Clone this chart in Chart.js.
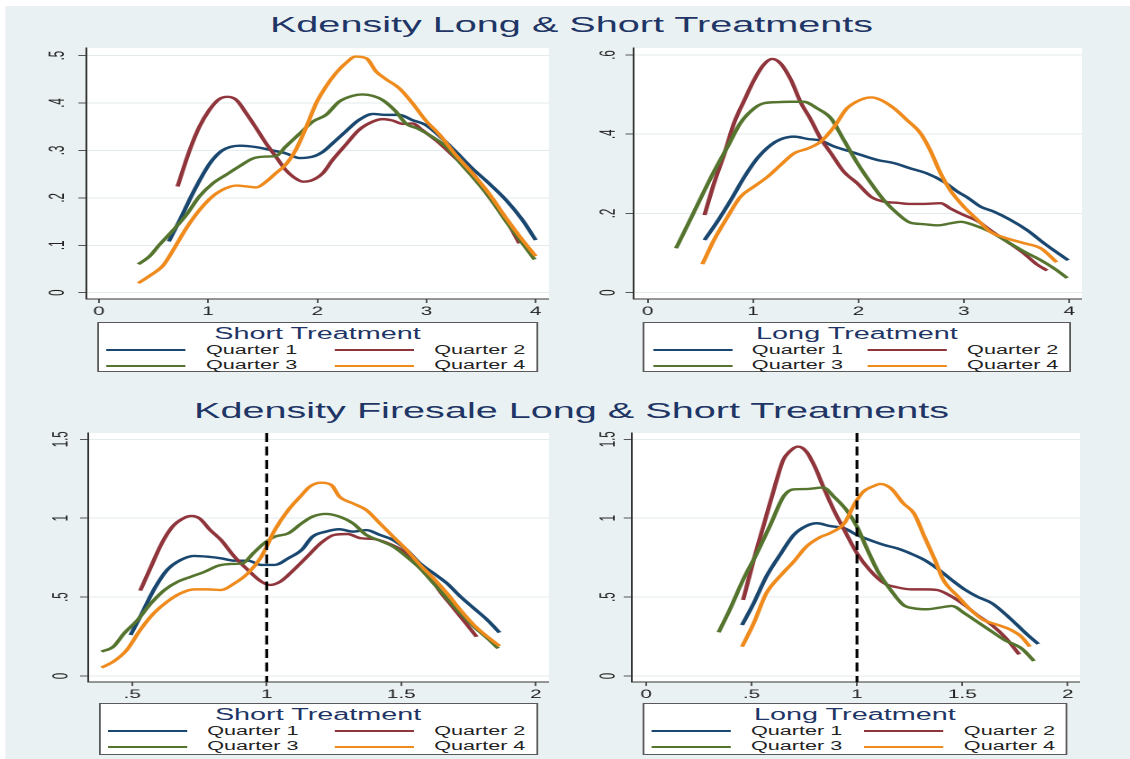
<!DOCTYPE html>
<html>
<head>
<meta charset="utf-8">
<script src="https://cdn.jsdelivr.net/npm/chart.js@4.4.1/dist/chart.umd.min.js"></script>
<style>
  html, body { margin: 0; padding: 0; background: #fff; overflow: hidden; }
  /* the reference picture is stretched sideways, so the whole figure is drawn narrow and scaled */
  #fig { position: absolute; left: 0; top: 0; width: 627.8px; height: 759px;
         transform: scaleX(1.8); transform-origin: 0 0;
         font-family: "Liberation Sans", Arial, sans-serif; }
  .band { position: absolute; left: 2.5px; top: 6px; right: 0; bottom: 0; background: #e9f1f2; }
  .title { position: absolute; left: 0; width: 635px; height: 30px; line-height: 30px;
           text-align: center; font-size: 22px; color: #1e3566; white-space: nowrap; }
  canvas { position: absolute; }
  .legend { position: absolute; background: #fff; border: 1px solid #5a5a5a; box-sizing: border-box; }
  .legend .lt { position: absolute; left: 0; right: 0; top: 0; height: 21px; line-height: 21px;
                text-align: center; font-size: 16px; color: #1e3566; white-space: nowrap; }
  .legend .items { position: absolute; left: 4.5px; right: 6px; top: 19.5px; display: grid;
                   grid-template-columns: 44px 1fr 44px auto; grid-auto-rows: 15.5px;
                   column-gap: 11px; align-items: center; }
  .legend .ln { height: 2px; }
  .legend .tx { font-size: 12px; color: #222; white-space: nowrap; line-height: 15.5px; }
</style>
</head>
<body>
<div id="fig">
  <div class="band"></div>
  <div class="title" id="t1" style="top:10px"></div>
  <div class="title" id="t2" style="top:395.5px"></div>

  <canvas id="c1" width="289" height="273" style="left:16.2px; top:44px"></canvas>
  <canvas id="c2" width="281" height="273" style="left:319.5px; top:44px"></canvas>
  <canvas id="c3" width="288" height="271" style="left:16.7px; top:429px"></canvas>
  <canvas id="c4" width="281" height="271" style="left:318.9px; top:429px"></canvas>

  <div class="legend" id="l1" style="left:53.9px; top:322px; width:245px; height:50px"></div>
  <div class="legend" id="l2" style="left:357.2px; top:322px; width:237.8px; height:50px"></div>
  <div class="legend" id="l3" style="left:54.6px; top:703px; width:244.3px; height:52px"></div>
  <div class="legend" id="l4" style="left:356.7px; top:703px; width:236.5px; height:52px"></div>
</div>

<script>
const figureTitles = ["Kdensity Long & Short Treatments", "Kdensity Firesale Long & Short Treatments"];
const legendTitles = ["Short Treatment", "Long Treatment", "Short Treatment", "Long Treatment"];
const seriesNames = ["Quarter 1", "Quarter 2", "Quarter 3", "Quarter 4"];
const seriesColors = ["#1a476f", "#90353b", "#55752f", "#ef8a1c"];

// tick values and their printed labels
const xTicks04 = [0, 1, 2, 3, 4];
const xLabels04 = ["0", "1", "2", "3", "4"];
const yTicksShort = [0, 0.1, 0.2, 0.3, 0.4, 0.5];
const yLabelsShort = ["0", ".1", ".2", ".3", ".4", ".5"];
const yTicksLong = [0, 0.2, 0.4, 0.6];
const yLabelsLong = ["0", ".2", ".4", ".6"];
const xTicksFireShort = [0.5, 1, 1.5, 2];
const xLabelsFireShort = [".5", "1", "1.5", "2"];
const xTicksFireLong = [0, 0.5, 1, 1.5, 2];
const xLabelsFireLong = ["0", ".5", "1", "1.5", "2"];
const yTicksFire = [0, 0.5, 1, 1.5];
const yLabelsFire = ["0", ".5", "1", "1.5"];
const firesaleCutoff = 1;

// kernel density curves, [x, density]
const shortQ1 = [[0.64,0.108],[0.74,0.153],[0.86,0.21],[0.98,0.26],[1.04,0.28],[1.13,0.30],[1.29,0.31],[1.44,0.307],[1.59,0.30],[1.71,0.294],[1.84,0.284],[1.96,0.287],[2.05,0.297],[2.14,0.315],[2.26,0.34],[2.38,0.364],[2.51,0.377],[2.63,0.375],[2.75,0.375],[2.87,0.364],[2.99,0.354],[3.12,0.33],[3.27,0.297],[3.42,0.262],[3.57,0.231],[3.73,0.195],[3.88,0.153],[4.0,0.111]];
const shortQ2 = [[0.72,0.224],[0.83,0.30],[0.92,0.35],[1.01,0.385],[1.10,0.408],[1.18,0.413],[1.26,0.406],[1.35,0.378],[1.44,0.347],[1.53,0.315],[1.62,0.287],[1.71,0.259],[1.80,0.241],[1.87,0.234],[1.96,0.238],[2.05,0.252],[2.14,0.28],[2.26,0.312],[2.38,0.343],[2.51,0.361],[2.60,0.366],[2.69,0.363],[2.78,0.356],[2.87,0.357],[2.96,0.343],[3.12,0.315],[3.27,0.283],[3.42,0.252],[3.57,0.203],[3.73,0.153],[3.85,0.104]];
const shortQ3 = [[0.36,0.06],[0.46,0.076],[0.55,0.10],[0.68,0.132],[0.80,0.164],[0.92,0.203],[1.04,0.23],[1.16,0.248],[1.29,0.267],[1.41,0.283],[1.53,0.287],[1.62,0.288],[1.71,0.308],[1.84,0.336],[1.96,0.361],[2.08,0.375],[2.20,0.403],[2.32,0.415],[2.41,0.418],[2.51,0.415],[2.60,0.406],[2.72,0.382],[2.81,0.357],[2.93,0.345],[3.05,0.329],[3.18,0.308],[3.30,0.276],[3.42,0.245],[3.57,0.203],[3.73,0.15],[3.88,0.104],[3.99,0.07]];
const shortQ4 = [[0.36,0.02],[0.46,0.035],[0.59,0.058],[0.68,0.09],[0.80,0.136],[0.92,0.174],[1.04,0.203],[1.16,0.22],[1.26,0.226],[1.35,0.224],[1.44,0.222],[1.53,0.234],[1.62,0.252],[1.71,0.27],[1.80,0.30],[1.90,0.35],[1.99,0.40],[2.08,0.435],[2.17,0.463],[2.26,0.484],[2.35,0.498],[2.45,0.494],[2.54,0.466],[2.63,0.45],[2.75,0.431],[2.87,0.40],[2.99,0.364],[3.12,0.333],[3.27,0.29],[3.42,0.252],[3.57,0.21],[3.73,0.157],[3.88,0.111],[4.0,0.077]];

const longQ1 = [[0.54,0.133],[0.66,0.179],[0.79,0.234],[0.92,0.293],[1.04,0.339],[1.17,0.373],[1.26,0.387],[1.39,0.394],[1.52,0.388],[1.64,0.384],[1.77,0.369],[1.89,0.359],[2.02,0.348],[2.18,0.335],[2.34,0.327],[2.49,0.314],[2.65,0.301],[2.81,0.28],[2.94,0.255],[3.03,0.241],[3.16,0.217],[3.28,0.205],[3.44,0.184],[3.60,0.158],[3.76,0.125],[3.88,0.102],[3.99,0.082]];
const longQ2 = [[0.54,0.196],[0.63,0.276],[0.73,0.352],[0.82,0.428],[0.92,0.487],[1.01,0.537],[1.10,0.575],[1.18,0.59],[1.26,0.579],[1.36,0.537],[1.45,0.482],[1.55,0.436],[1.64,0.39],[1.74,0.352],[1.86,0.306],[1.99,0.276],[2.12,0.242],[2.24,0.23],[2.37,0.227],[2.49,0.224],[2.62,0.224],[2.78,0.226],[2.87,0.213],[3.0,0.196],[3.13,0.181],[3.25,0.158],[3.41,0.129],[3.57,0.099],[3.69,0.072],[3.79,0.056]];
const longQ3 = [[0.27,0.112],[0.38,0.171],[0.51,0.242],[0.63,0.306],[0.76,0.369],[0.88,0.428],[1.01,0.465],[1.10,0.478],[1.23,0.481],[1.36,0.482],[1.48,0.482],[1.61,0.465],[1.74,0.44],[1.86,0.386],[1.99,0.327],[2.12,0.276],[2.24,0.234],[2.37,0.2],[2.49,0.177],[2.62,0.173],[2.75,0.17],[2.87,0.175],[2.97,0.179],[3.09,0.171],[3.25,0.154],[3.41,0.129],[3.57,0.104],[3.73,0.082],[3.88,0.057],[3.98,0.037]];
const longQ4 = [[0.52,0.072],[0.63,0.133],[0.76,0.192],[0.88,0.242],[1.01,0.268],[1.14,0.293],[1.26,0.322],[1.39,0.352],[1.52,0.364],[1.64,0.381],[1.77,0.419],[1.89,0.465],[2.02,0.487],[2.12,0.493],[2.21,0.487],[2.34,0.465],[2.46,0.436],[2.59,0.402],[2.68,0.36],[2.78,0.301],[2.87,0.259],[3.0,0.217],[3.13,0.184],[3.25,0.154],[3.41,0.137],[3.57,0.125],[3.73,0.112],[3.88,0.077]];

const fireShortQ1 = [[0.494,0.26],[0.53,0.376],[0.58,0.545],[0.63,0.672],[0.68,0.735],[0.73,0.761],[0.78,0.756],[0.83,0.746],[0.88,0.731],[0.93,0.731],[0.98,0.704],[1.03,0.704],[1.08,0.746],[1.13,0.799],[1.17,0.883],[1.22,0.915],[1.27,0.93],[1.32,0.915],[1.37,0.925],[1.42,0.894],[1.47,0.862],[1.52,0.799],[1.57,0.714],[1.62,0.651],[1.67,0.587],[1.72,0.503],[1.77,0.429],[1.82,0.355],[1.865,0.275]];
const fireShortQ2 = [[0.53,0.541],[0.57,0.693],[0.61,0.841],[0.65,0.947],[0.69,0.999],[0.72,1.014],[0.75,0.999],[0.79,0.925],[0.83,0.862],[0.88,0.756],[0.93,0.672],[0.98,0.598],[1.01,0.577],[1.05,0.598],[1.10,0.672],[1.15,0.756],[1.20,0.841],[1.25,0.894],[1.30,0.9],[1.35,0.873],[1.40,0.868],[1.45,0.841],[1.50,0.799],[1.55,0.725],[1.60,0.651],[1.64,0.545],[1.69,0.439],[1.74,0.334],[1.78,0.249]];
const fireShortQ3 = [[0.386,0.154],[0.43,0.186],[0.47,0.27],[0.52,0.355],[0.57,0.461],[0.62,0.545],[0.67,0.598],[0.72,0.63],[0.77,0.661],[0.82,0.699],[0.87,0.71],[0.91,0.714],[0.95,0.778],[0.99,0.841],[1.03,0.883],[1.08,0.904],[1.13,0.968],[1.17,1.01],[1.22,1.027],[1.27,1.01],[1.32,0.968],[1.37,0.894],[1.42,0.858],[1.47,0.82],[1.52,0.756],[1.57,0.682],[1.62,0.587],[1.67,0.492],[1.72,0.397],[1.77,0.313],[1.82,0.239],[1.86,0.175]];
const fireShortQ4 = [[0.386,0.053],[0.43,0.091],[0.48,0.165],[0.53,0.292],[0.58,0.397],[0.63,0.471],[0.68,0.524],[0.73,0.549],[0.78,0.549],[0.83,0.545],[0.88,0.587],[0.93,0.651],[0.98,0.756],[1.03,0.925],[1.08,1.052],[1.13,1.147],[1.16,1.2],[1.20,1.225],[1.24,1.211],[1.27,1.137],[1.32,1.094],[1.37,1.052],[1.42,0.968],[1.47,0.883],[1.52,0.799],[1.57,0.704],[1.62,0.619],[1.67,0.524],[1.72,0.418],[1.77,0.323],[1.82,0.249],[1.865,0.19]];

const fireLongQ1 = [[0.455,0.323],[0.51,0.461],[0.57,0.63],[0.64,0.778],[0.70,0.894],[0.76,0.951],[0.81,0.968],[0.87,0.951],[0.94,0.936],[1.0,0.894],[1.06,0.862],[1.13,0.83],[1.19,0.809],[1.26,0.773],[1.32,0.735],[1.38,0.682],[1.45,0.608],[1.51,0.549],[1.57,0.503],[1.64,0.461],[1.70,0.397],[1.76,0.323],[1.81,0.26],[1.86,0.203]];
const fireLongQ2 = [[0.46,0.482],[0.51,0.735],[0.56,0.968],[0.61,1.2],[0.65,1.369],[0.68,1.422],[0.72,1.454],[0.76,1.422],[0.80,1.327],[0.84,1.2],[0.89,1.052],[0.94,0.925],[1.0,0.778],[1.06,0.672],[1.13,0.587],[1.19,0.562],[1.26,0.549],[1.32,0.549],[1.38,0.545],[1.45,0.503],[1.51,0.45],[1.57,0.387],[1.64,0.323],[1.70,0.249],[1.77,0.137]];
const fireLongQ3 = [[0.344,0.277],[0.40,0.43],[0.46,0.61],[0.526,0.78],[0.59,0.96],[0.653,1.14],[0.70,1.183],[0.76,1.185],[0.84,1.194],[0.89,1.137],[0.95,1.052],[1.0,0.947],[1.05,0.799],[1.10,0.661],[1.16,0.545],[1.22,0.45],[1.27,0.429],[1.33,0.423],[1.40,0.435],[1.45,0.444],[1.51,0.397],[1.57,0.344],[1.64,0.281],[1.70,0.228],[1.78,0.175],[1.84,0.095]];
const fireLongQ4 = [[0.455,0.186],[0.51,0.334],[0.57,0.524],[0.64,0.64],[0.70,0.725],[0.76,0.82],[0.83,0.883],[0.87,0.904],[0.94,0.968],[0.99,1.094],[1.03,1.168],[1.08,1.204],[1.11,1.217],[1.16,1.19],[1.22,1.094],[1.27,1.031],[1.32,0.883],[1.37,0.735],[1.41,0.608],[1.48,0.503],[1.54,0.418],[1.60,0.355],[1.67,0.323],[1.73,0.292],[1.78,0.249],[1.82,0.186]];

Chart.defaults.font.family = '"Liberation Sans", Arial, sans-serif';

document.getElementById("t1").textContent = figureTitles[0];
document.getElementById("t2").textContent = figureTitles[1];

const panels = [
  { canvas: "c1", legend: "l1", series: [shortQ1, shortQ2, shortQ3, shortQ4],
    xTicks: xTicks04, xLabels: xLabels04, yTicks: yTicksShort, yLabels: yLabelsShort,
    xMin: -0.115, xMax: 4.122, yMin: -0.0133, yMax: 0.516, yPad: 6.6 },
  { canvas: "c2", legend: "l2", series: [longQ1, longQ2, longQ3, longQ4],
    xTicks: xTicks04, xLabels: xLabels04, yTicks: yTicksLong, yLabels: yLabelsLong,
    xMin: -0.1326, xMax: 4.119, yMin: -0.0159, yMax: 0.6177, yPad: 4.4 },
  { canvas: "c3", legend: "l3", series: [fireShortQ1, fireShortQ2, fireShortQ3, fireShortQ4],
    xTicks: xTicksFireShort, xLabels: xLabelsFireShort, yTicks: yTicksFire, yLabels: yLabelsFire,
    xMin: 0.3366, xMax: 2.049, yMin: -0.038, yMax: 1.54, yPad: 2.3, cutoff: firesaleCutoff },
  { canvas: "c4", legend: "l4", series: [fireLongQ1, fireLongQ2, fireLongQ3, fireLongQ4],
    xTicks: xTicksFireLong, xLabels: xLabelsFireLong, yTicks: yTicksFire, yLabels: yLabelsFire,
    xMin: -0.068, xMax: 2.058, yMin: -0.038, yMax: 1.54, yPad: 0, cutoff: firesaleCutoff }
];

// white plot region + dashed reference line
const plotBg = {
  id: "plotBg",
  beforeDraw(chart) {
    const a = chart.chartArea, ctx = chart.ctx;
    ctx.save();
    ctx.fillStyle = "#fff";
    ctx.fillRect(a.left, a.top, a.right - a.left, a.bottom - a.top);
    ctx.restore();
  },
  afterDatasetsDraw(chart, args, opts) {
    if (opts.cutoff == null) return;
    const a = chart.chartArea, ctx = chart.ctx;
    const x = chart.scales.x.getPixelForValue(opts.cutoff);
    ctx.save();
    ctx.strokeStyle = "#000";
    ctx.lineWidth = 1.6;
    ctx.setLineDash([9, 4.5]);
    ctx.beginPath();
    ctx.moveTo(x, a.top);
    ctx.lineTo(x, a.bottom);
    ctx.stroke();
    ctx.restore();
  }
};

panels.forEach((p, k) => {
  // legend box
  const lg = document.getElementById(p.legend);
  let html = '<div class="lt">' + legendTitles[k] + '</div><div class="items">';
  seriesNames.forEach((name, i) => {
    html += '<div class="ln" style="background:' + seriesColors[i] + '"></div><div class="tx">' + name + '</div>';
  });
  lg.innerHTML = html + "</div>";

  const datasets = p.series.map((s, i) => ({
    label: seriesNames[i],
    data: s.map(pt => ({ x: pt[0], y: pt[1] })),
    borderColor: seriesColors[i],
    borderWidth: 2.4,
    pointRadius: 0,
    fill: false,
    cubicInterpolationMode: "monotone",
    order: 3 - i
  }));

  new Chart(document.getElementById(p.canvas), {
    type: "line",
    data: { datasets },
    plugins: [plotBg],
    options: {
      responsive: false,
      animation: false,
      devicePixelRatio: 2,
      layout: { padding: { top: 4, left: 0, right: 0, bottom: 0 } },
      plugins: { legend: { display: false }, tooltip: { enabled: false }, plotBg: { cutoff: p.cutoff } },
      scales: {
        x: {
          type: "linear", min: p.xMin, max: p.xMax,
          afterBuildTicks: s => { s.ticks = p.xTicks.map(v => ({ value: v })); },
          afterFit: s => { s.height = 18; s.paddingLeft = 0; s.paddingRight = 0; },
          ticks: { autoSkip: false, maxRotation: 0, padding: 2, color: "#222",
                   font: { size: 11.5 }, callback: (v, i) => p.xLabels[i] },
          grid: { drawOnChartArea: false, drawTicks: true, tickLength: 4, tickColor: "#555", tickWidth: 1 },
          border: { display: true, color: "#333", width: 1 }
        },
        y: {
          type: "linear", min: p.yMin, max: p.yMax,
          afterBuildTicks: s => { s.ticks = p.yTicks.map(v => ({ value: v })); },
          afterFit: s => { s.width = 32; s.paddingTop = 0; s.paddingBottom = 0; },
          ticks: { autoSkip: false, minRotation: 90, maxRotation: 90, crossAlign: "center",
                   padding: p.yPad, color: "#222", font: { size: 11.5 },
                   callback: (v, i) => p.yLabels[i] },
          grid: { color: "#e3ebed", lineWidth: 1, drawTicks: true, tickLength: 4.5, tickColor: "#555", tickWidth: 1 },
          border: { display: true, color: "#333", width: 1 }
        }
      }
    }
  });
});
</script>
</body>
</html>
